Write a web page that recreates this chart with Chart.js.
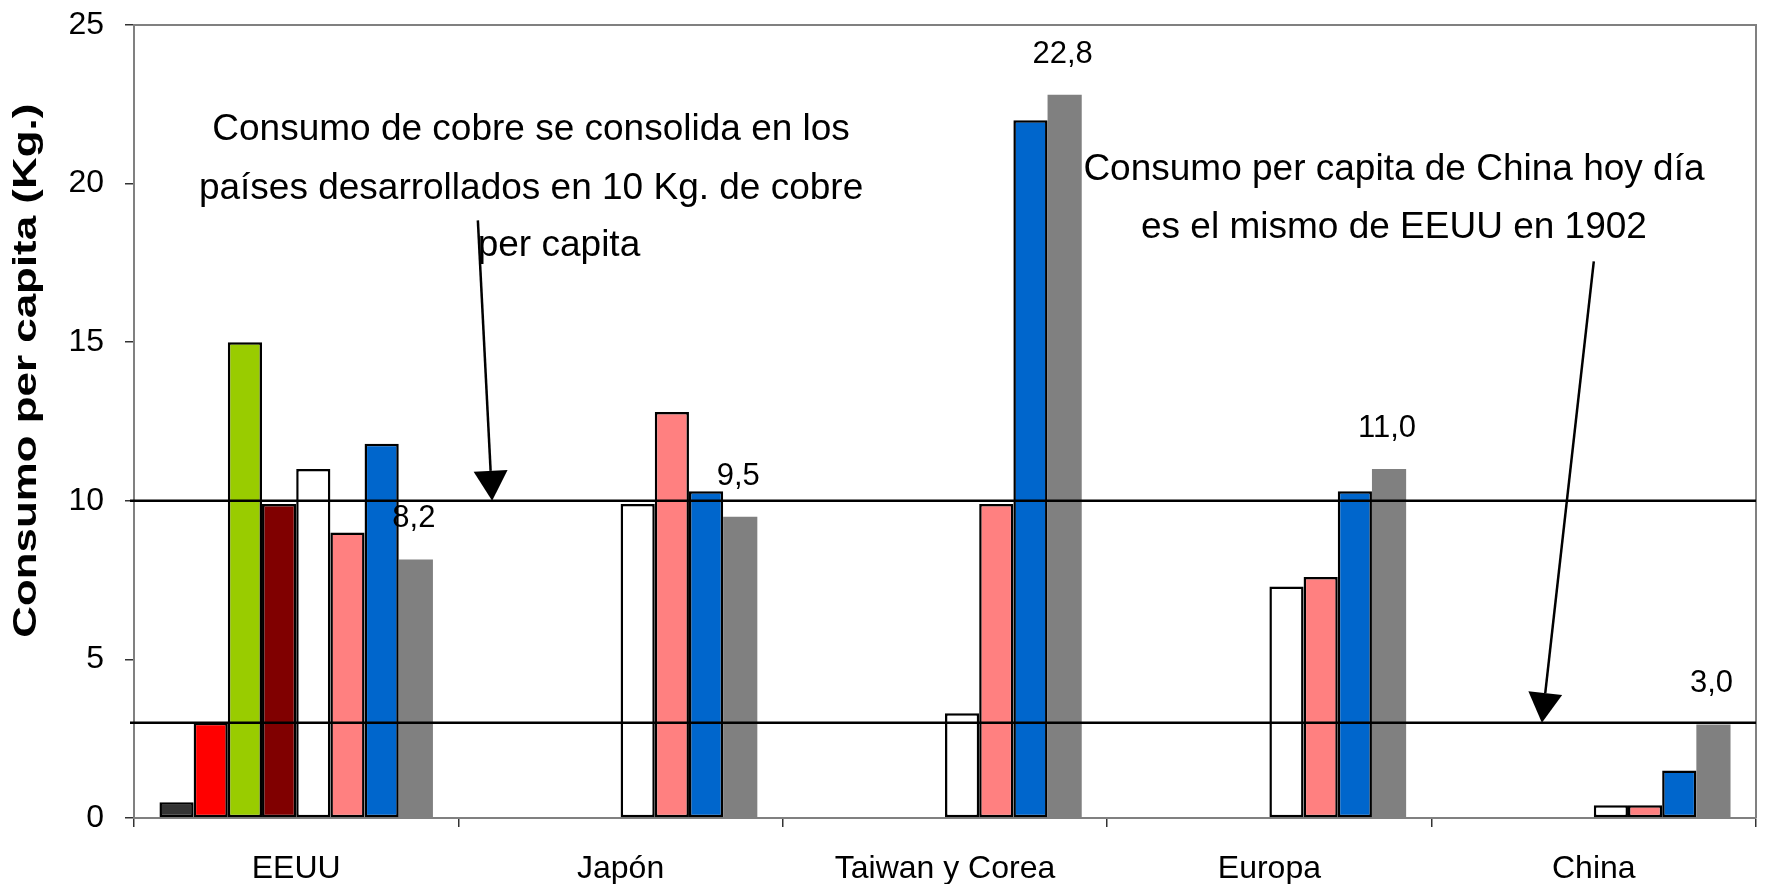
<!DOCTYPE html>
<html>
<head>
<meta charset="utf-8">
<script src="https://cdn.jsdelivr.net/npm/chart.js@4.4.1/dist/chart.umd.min.js"></script>
<style>
  html, body { margin: 0; padding: 0; background: #fff; }
  #wrap { width: 1765px; height: 884px; position: relative; }
</style>
</head>
<body>
<div id="wrap"><canvas id="grafico"></canvas></div>
<script>
// --- datos del gráfico ---
const categorias = ['EEUU', 'Japón', 'Taiwan y Corea', 'Europa', 'China'];

const serie1 = [0.5, null, null, null, null];
const serie2 = [3.0, null, null, null, null];
const serie3 = [15.0, null, null, null, null];
const serie4 = [9.9, null, null, null, null];
const serie5 = [11.0, 9.9, 3.3, 7.3, 0.4];
const serie6 = [9.0, 12.8, 9.9, 7.6, 0.4];
const serie7 = [11.8, 10.3, 22.0, 10.3, 1.5];
const serie8 = [8.15, 9.5, 22.8, 11.0, 2.95];

const coloresSeries = ['#333333', '#FF0000', '#99CC00', '#800000', '#FFFFFF', '#FF8080', '#0066CC', '#808080'];
const ticksY = [0, 5, 10, 15, 20, 25];
const lineasReferencia = [10, 3];
const tituloY = 'Consumo per capita (Kg.)';

// anotaciones: x en índice de categoría, y en Kg.
const textoIzq = [
    { txt: 'Consumo de cobre se consolida en los', x: 0.724, y: 21.39 },
    { txt: 'países desarrollados en 10 Kg. de cobre', x: 0.724, y: 19.53 },
    { txt: 'per capita', x: 0.81, y: 17.71 }
];
const textoDer = [
    { txt: 'Consumo per capita de China hoy día', x: 3.384, y: 20.10 },
    { txt: 'es el mismo de EEUU en 1902', x: 3.384, y: 18.27 }
];
const flechas = [
    { x1: 0.560, y1: 18.84, x2: 0.604, y2: 10 },
    { x1: 4.000, y1: 17.55, x2: 3.840, y2: 3 }
];

const FUENTE = "Arial, 'Liberation Sans', sans-serif";
Chart.defaults.font.family = FUENTE;
Chart.defaults.color = '#000';

const series = [serie1, serie2, serie3, serie4, serie5, serie6, serie7, serie8];
const datasets = series.map((valores, i) => ({
    label: 'Serie ' + (i + 1),
    data: valores,
    backgroundColor: coloresSeries[i],
    borderColor: '#000',
    borderWidth: i === 7 ? 0 : 2.5,
    borderSkipped: false
}));

function formatoComa(v) {
    return (Math.round(v * 10) / 10).toFixed(1).replace('.', ',');
}

const anotaciones = {
    id: 'anotaciones',
    afterDatasetsDraw(chart) {
        const ctx = chart.ctx;
        const xs = chart.scales.x, ys = chart.scales.y;
        const area = chart.chartArea;
        ctx.save();

        // borde superior y derecho del área de trazado
        ctx.strokeStyle = '#808080';
        ctx.lineWidth = 2;
        ctx.beginPath();
        ctx.moveTo(area.left, area.top);
        ctx.lineTo(area.right, area.top);
        ctx.lineTo(area.right, area.bottom);
        ctx.stroke();

        // líneas horizontales de referencia
        ctx.strokeStyle = '#000';
        ctx.lineWidth = 2.5;
        lineasReferencia.forEach(v => {
            const y = ys.getPixelForValue(v);
            ctx.beginPath();
            ctx.moveTo(area.left - 4, y);
            ctx.lineTo(area.right, y);
            ctx.stroke();
        });

        // etiquetas de la última serie
        const meta = chart.getDatasetMeta(7);
        ctx.font = '31px ' + FUENTE;
        ctx.fillStyle = '#000';
        ctx.textAlign = 'center';
        ctx.textBaseline = 'alphabetic';
        meta.data.forEach((bar, i) => {
            const v = serie8[i];
            if (v == null) return;
            ctx.fillText(formatoComa(v), bar.x - 2, bar.y - 32);
        });

        // textos
        ctx.font = '37px ' + FUENTE;
        textoIzq.concat(textoDer).forEach(t => {
            ctx.fillText(t.txt, xs.getPixelForValue(t.x), ys.getPixelForValue(t.y));
        });

        // flechas
        ctx.strokeStyle = '#000';
        ctx.fillStyle = '#000';
        ctx.lineWidth = 2.5;
        flechas.forEach(f => {
            const x1 = xs.getPixelForValue(f.x1), y1 = ys.getPixelForValue(f.y1);
            const x2 = xs.getPixelForValue(f.x2), y2 = ys.getPixelForValue(f.y2);
            const ang = Math.atan2(y2 - y1, x2 - x1);
            const largo = 30, medio = 17;
            const bx = x2 - largo * Math.cos(ang), by = y2 - largo * Math.sin(ang);
            ctx.beginPath();
            ctx.moveTo(x1, y1);
            ctx.lineTo(bx, by);
            ctx.stroke();
            ctx.beginPath();
            ctx.moveTo(x2, y2);
            ctx.lineTo(bx + medio * Math.sin(ang), by - medio * Math.cos(ang));
            ctx.lineTo(bx - medio * Math.sin(ang), by + medio * Math.cos(ang));
            ctx.closePath();
            ctx.fill();
        });

        // título del eje Y (estirado a lo largo, como en el original)
        ctx.save();
        ctx.translate(27, ys.getPixelForValue(14.1));
        ctx.rotate(-Math.PI / 2);
        ctx.scale(1.33, 1);
        ctx.font = 'bold 33px ' + FUENTE;
        ctx.textAlign = 'center';
        ctx.textBaseline = 'middle';
        ctx.fillText(tituloY, 0, 0);
        ctx.restore();

        ctx.restore();
    }
};

new Chart(document.getElementById('grafico'), {
    type: 'bar',
    data: { labels: categorias, datasets: datasets },
    options: {
        responsive: true,
        maintainAspectRatio: false,
        devicePixelRatio: 1,
        animation: false,
        layout: { padding: { top: 25, right: 9, left: 0, bottom: 0 } },
        datasets: { bar: { categoryPercentage: 0.843, barPercentage: 1 } },
        plugins: { legend: { display: false }, tooltip: { enabled: false } },
        scales: {
            x: {
                grid: { offset: true, drawOnChartArea: false, tickLength: 9, color: '#333', lineWidth: 1.5 },
                border: { color: '#808080', width: 2 },
                ticks: { font: { size: 32 }, padding: 23, maxRotation: 0 },
                afterFit(scale) { scale.height = 66; }
            },
            y: {
                min: 0, max: 25,
                afterBuildTicks(scale) { scale.ticks = ticksY.map(v => ({ value: v })); },
                grid: { drawOnChartArea: false, tickLength: 9, color: '#333', lineWidth: 1.5 },
                border: { color: '#808080', width: 2 },
                ticks: { font: { size: 32 }, padding: 21 },
                afterFit(scale) {
                    scale.width = 134;
                    scale.paddingTop = 0;
                    scale.paddingBottom = 0;
                }
            }
        }
    },
    plugins: [anotaciones]
});
</script>
</body>
</html>
